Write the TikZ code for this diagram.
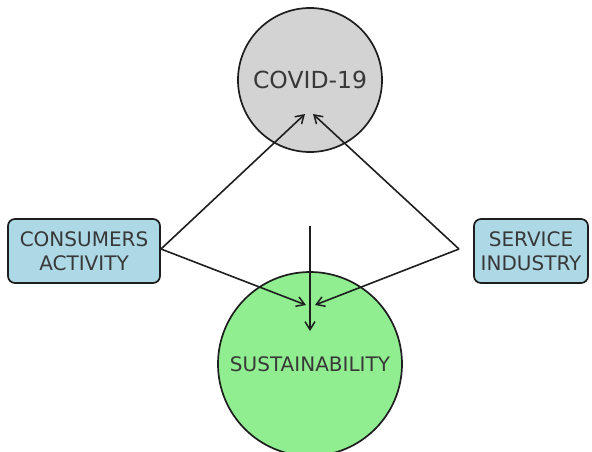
\documentclass[tikz,border=0pt]{standalone}
\usepackage{fontspec}
\setmainfont{DejaVu Sans}
\usetikzlibrary{arrows.meta}
\definecolor{txt}{HTML}{383838}
\definecolor{edge}{HTML}{1E1E1E}
\definecolor{cgray}{HTML}{D3D3D3}
\definecolor{cgreen}{HTML}{90EE90}
\definecolor{cblue}{HTML}{ADD8E6}
\tikzset{
  circ/.style={circle, draw=edge, line width=1.7pt, inner sep=0pt, text=txt},
  sidebox/.style={draw=edge, fill=cblue, line width=1.7pt, rounded corners=7pt,
    text=txt, align=center, inner sep=0pt, font=\fontsize{20}{24}\selectfont},
  arr/.style={-{Straight Barb[length=8pt,width=10pt,line width=1.5pt]}, line width=1.6pt, draw=edge}
}
\begin{document}
\begin{tikzpicture}[x=1pt,y=-1pt]
\useasboundingbox (0,0) rectangle (592,451);
\node[circ, fill=cgray, minimum size=144pt, font=\fontsize{23.5}{27}\selectfont] (covid) at (310,80) {COVID-19};
\node[circ, fill=cgreen, minimum size=184pt, font=\fontsize{20}{24}\selectfont] (sust) at (310,364) {SUSTAINABILITY};
\node[sidebox, minimum width=152pt, minimum height=64pt] (cons) at (84,251) {CONSUMERS\\ACTIVITY};
\node[sidebox, minimum width=114pt, minimum height=64pt] (serv) at (531,251) {SERVICE\\INDUSTRY};
\coordinate (cl) at (161,249);
\coordinate (sl) at (459,249);
\coordinate (ctl) at (305,114);
\coordinate (ctr) at (313,114);
\coordinate (sbl) at (306,305);
\coordinate (sbr) at (315,305);
\coordinate (vtop) at (310,226);
\coordinate (vbot) at (310,331);
\draw[arr] (cl) -- (ctl);
\draw[arr] (sl) -- (ctr);
\draw[arr] (cl) -- (sbl);
\draw[arr] (sl) -- (sbr);
\draw[arr] (vtop) -- (vbot);
\end{tikzpicture}
\end{document}
